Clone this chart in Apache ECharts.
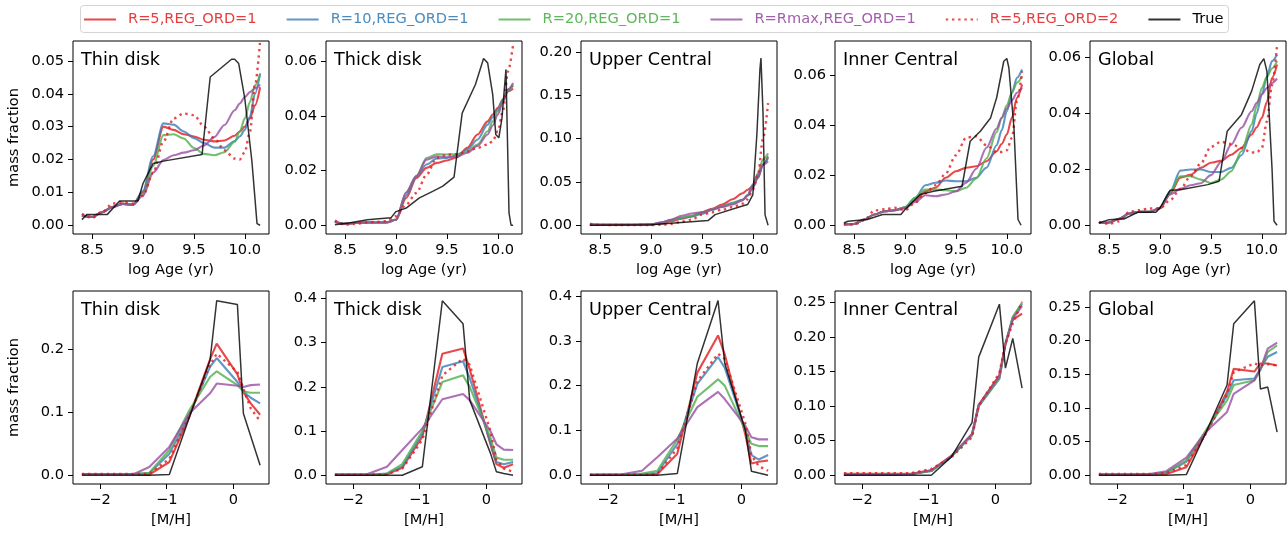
<!DOCTYPE html>
<html>
<head>
<meta charset="utf-8">
<script src="https://cdn.jsdelivr.net/npm/echarts@6/dist/echarts.min.js"></script>
<style>html,body{margin:0;padding:0;background:#fff}#c{width:1288px;height:533px}</style>
</head>
<body>
<div id="c"></div>
<script>
// ---------- data ----------
const SERIES_NAMES = ['R=5,REG_ORD=1','R=10,REG_ORD=1','R=20,REG_ORD=1','R=Rmax,REG_ORD=1','R=5,REG_ORD=2','True'];
const PANEL_TITLES = ['Thin disk','Thick disk','Upper Central','Inner Central','Global'];

const AGE = [8.4, 8.5, 8.6, 8.7, 8.8, 8.9, 9.0, 9.1, 9.2, 9.3, 9.4, 9.5, 9.6, 9.7, 9.8, 9.9, 9.95, 10.0, 10.05, 10.1, 10.15];
const MH = [-2.27, -1.79, -1.49, -1.26, -0.96, -0.66, -0.35, -0.25, 0.06, 0.15, 0.26, 0.40];

const AGE_TICKS = [8.5, 9.0, 9.5, 10.0];
const MH_TICKS = [-2, -1, 0];

// Thin disk (age)
const thinAgeR5   = [.003,.0025,.004,.0056,.0066,.0062,.010,.020,.0300,.0290,.0277,.0270,.0260,.0255,.0258,.0272,.0285,.0300,.0325,.0365,.0420];
const thinAgeR10  = [.003,.0025,.004,.0055,.0065,.0062,.0105,.021,.0310,.0306,.0285,.0265,.0250,.0236,.0236,.0256,.0270,.0290,.0330,.0400,.0462];
const thinAgeR20  = [.003,.0025,.004,.0055,.0065,.0062,.0095,.018,.0274,.0277,.0264,.0235,.0217,.0213,.0222,.0254,.0285,.0325,.0375,.0426,.0458];
const thinAgeRmax = [.003,.0025,.004,.0055,.0065,.0062,.009,.016,.0198,.0213,.0221,.0228,.0243,.0268,.0305,.0350,.0370,.0390,.0405,.0416,.0428];
const thinAgeR5o2 = [.0035,.0022,.004,.0066,.0070,.0066,.0090,.016,.0254,.0325,.0340,.0335,.0300,.0264,.0228,.0203,.0200,.0223,.0284,.0426,.0560];
const thinAgeTrueX = [8.4, 8.45, 8.65, 8.77, 8.95, 9.0, 9.1, 9.2, 9.58, 9.66, 9.87, 9.9, 9.94, 10.0, 10.07, 10.12, 10.15];
const thinAgeTrueY = [.0017,.0033,.0033,.0074,.0074,.0127,.0188,.0195,.0215,.0451,.0505,.0505,.0492,.0385,.0193,.0005,0];

// Thick disk (age)
const thickAgeR5   = [.0015,.0005,.0008,.001,.001,.001,.002,.010,.0173,.021,.0228,.0237,.0249,.0283,.0332,.038,.0405,.043,.046,.049,.050];
const thickAgeR10  = [.0013,.0005,.0008,.001,.001,.001,.002,.011,.0178,.0222,.0244,.0246,.0256,.0277,.0313,.0368,.0395,.0423,.046,.0496,.0510];
const thickAgeR20  = [.0012,.0005,.0008,.001,.001,.001,.002,.012,.0180,.0246,.026,.0259,.026,.027,.0295,.0344,.038,.0417,.0455,.049,.0515];
const thickAgeRmax = [.0012,.0005,.0008,.001,.001,.001,.002,.012,.0180,.0240,.0252,.0249,.0252,.0265,.029,.0332,.0365,.0405,.045,.0496,.052];
const thickAgeR5o2 = [.0017,.0002,.0005,.001,.0012,.0015,.0033,.0076,.0118,.0185,.0246,.0258,.026,.027,.0283,.0295,.0307,.0344,.0417,.0563,.066];
const thickAgeTrueX = [8.4, 8.55, 8.72, 8.83, 8.95, 9.0, 9.1, 9.23, 9.36, 9.46, 9.57, 9.65, 9.78, 9.86, 9.9, 9.95, 9.98, 10.01, 10.04, 10.08, 10.11, 10.13, 10.15];
const thickAgeTrueY = [.0002,.0009,.002,.0024,.0027,.005,.0063,.010,.0124,.0143,.0176,.041,.0515,.061,.0594,.0478,.0332,.032,.039,.057,.0045,0,0];

// Upper Central (age)
const upperAgeR5   = [.001,.0005,.0005,.0005,.0005,.0007,.001,.002,.0046,.0075,.0104,.015,.019,.0238,.030,.037,.041,.045,.0546,.070,.0796];
const upperAgeR10  = [.0008,.0005,.0005,.0005,.0005,.0007,.001,.003,.006,.0085,.010,.013,.018,.022,.026,.0296,.034,.043,.055,.070,.078];
const upperAgeR20  = [.0008,.0005,.0005,.0005,.0005,.0007,.001,.003,.006,.009,.011,.014,.018,.0215,.025,.029,.035,.047,.060,.076,.083];
const upperAgeRmax = [.0008,.0005,.0005,.0005,.0005,.0007,.001,.003,.0065,.011,.0135,.015,.018,.021,.024,.029,.035,.046,.058,.070,.074];
const upperAgeR5o2 = [.0015,.0005,.0003,.0003,.0003,.0003,.0003,.0005,.0015,.004,.0065,.0123,.015,.018,.021,.025,.030,.041,.058,.100,.141];
const upperAgeTrueX = [8.4, 9.0, 9.23, 9.56, 9.63, 9.89, 9.95, 10.0, 10.04, 10.07, 10.08, 10.1, 10.12, 10.15];
const upperAgeTrueY = [0, .0005, .0027, .0054, .0123, .022, .024, .035, .105, .18, .193, .13, .012, 0];

// Inner Central (age)
const innerAgeR5   = [.0003,.0005,.0023,.0043,.0056,.006,.0072,.010,.0136,.015,.019,.0216,.023,.0236,.0256,.0296,.0325,.0363,.043,.051,.0563];
const innerAgeR10  = [.0003,.0005,.0023,.0043,.0056,.006,.0072,.011,.016,.017,.0179,.0176,.0176,.019,.023,.032,.038,.0456,.053,.059,.0623];
const innerAgeR20  = [.0003,.0005,.0023,.0043,.0056,.006,.0072,.011,.0143,.0143,.014,.0136,.015,.0187,.0267,.0373,.043,.048,.053,.057,.0596];
const innerAgeRmax = [.0003,.0005,.0023,.0043,.0056,.006,.0068,.0093,.012,.0116,.0123,.0136,.017,.0226,.031,.0387,.043,.0467,.050,.053,.055];
const innerAgeR5o2 = [.0005,.0003,.002,.0059,.0064,.007,.006,.009,.0129,.016,.0207,.028,.035,.0356,.032,.0293,.0293,.030,.035,.0496,.0616];
const innerAgeTrueX = [8.4, 8.44, 8.52, 8.63, 8.78, 8.96, 9.0, 9.15, 9.28, 9.38, 9.56, 9.64, 9.74, 9.84, 9.9, 9.97, 10.0, 10.02, 10.07, 10.11, 10.14];
const innerAgeTrueY = [.0009,.0016,.0019,.0023,.0043,.0043,.0063,.0123,.0136,.0143,.0156,.0336,.0376,.0429,.051,.0656,.0667,.063,.039,.0023,0];

// Global (age)
const globalAgeR5   = [.0008,.001,.0023,.0042,.0048,.0048,.006,.0113,.017,.018,.0205,.0223,.023,.0252,.0276,.0324,.035,.0383,.044,.0526,.0574];
const globalAgeR10  = [.0008,.001,.0023,.0042,.0048,.0048,.0062,.012,.0195,.0199,.0199,.019,.019,.0205,.025,.0336,.040,.0467,.053,.0586,.061];
const globalAgeR20  = [.0008,.001,.0023,.0042,.0048,.0048,.0062,.012,.0175,.0175,.0163,.0151,.0163,.0193,.0264,.036,.0425,.049,.053,.056,.0586];
const globalAgeRmax = [.0008,.001,.0023,.0042,.0048,.0048,.0062,.011,.013,.0143,.015,.0179,.0226,.0288,.0348,.0407,.0437,.0467,.049,.0508,.0524];
const globalAgeR5o2 = [.0012,.0005,.0014,.0048,.0054,.006,.006,.009,.013,.0175,.022,.028,.0298,.029,.0276,.026,.026,.0276,.0371,.050,.0645];
const globalAgeTrueX = [8.4, 8.5, 8.65, 8.78, 8.96, 9.0, 9.1, 9.2, 9.47, 9.58, 9.66, 9.8, 9.9, 9.98, 10.02, 10.05, 10.1, 10.12, 10.15];
const globalAgeTrueY = [.0008,.002,.0023,.0046,.0046,.0062,.0125,.0127,.0145,.0157,.0336,.0395,.0479,.0574,.0595,.055,.0205,.0014,0];

// Metallicity panels
const thinMhR5   = [.002,.002,.002,.001,.021,.093,.184,.209,.160,.132,.114,.096];
const thinMhR10  = [.002,.002,.002,.003,.034,.095,.172,.186,.148,.133,.123,.114];
const thinMhR20  = [.002,.002,.002,.004,.040,.103,.156,.165,.143,.133,.131,.131];
const thinMhRmax = [.002,.002,.002,.013,.045,.098,.130,.1455,.142,.140,.143,.144];
const thinMhR5o2 = [.002,.002,.002,.002,.026,.095,.175,.193,.164,.1376,.106,.086];
const thinMhTrue = [0,0,0,0,.001,.092,.1825,.277,.271,.098,.062,.016];

const thickMhR5   = [.001,.001,.002,.017,.087,.275,.287,.240,.070,.025,.017,.025];
const thickMhR10  = [.001,.001,.003,.020,.094,.245,.258,.220,.075,.030,.025,.030];
const thickMhR20  = [.001,.001,.004,.025,.100,.211,.226,.200,.085,.040,.035,.035];
const thickMhRmax = [.002,.002,.019,.057,.106,.172,.184,.170,.100,.070,.058,.057];
const thickMhR5o2 = [.001,.001,.002,.015,.080,.226,.264,.250,.100,.035,.015,.008];
const thickMhTrue = [0,0,0,0,.019,.395,.343,.170,.050,.008,.004,0];

const upperMhR5   = [.001,.001,.001,.002,.048,.229,.312,.270,.090,.026,.030,.033];
const upperMhR10  = [.001,.001,.002,.005,.070,.204,.264,.240,.100,.045,.035,.045];
const upperMhR20  = [.001,.001,.004,.010,.080,.175,.214,.200,.100,.070,.065,.065];
const upperMhRmax = [.001,.002,.010,.040,.082,.152,.186,.170,.110,.085,.080,.080];
const upperMhR5o2 = [.001,.001,.001,.003,.060,.210,.271,.260,.115,.045,.020,.010];
const upperMhTrue = [0,0,0,0,.004,.250,.390,.250,.100,.009,.005,0];

const innerMhR5   = [.002,.002,.002,.002,.007,.028,.059,.102,.145,.190,.225,.234];
const innerMhR10  = [.001,.001,.001,.002,.006,.027,.058,.100,.140,.190,.229,.248];
const innerMhR20  = [.001,.001,.001,.002,.006,.027,.058,.100,.140,.190,.229,.250];
const innerMhRmax = [.001,.001,.001,.002,.007,.028,.060,.102,.143,.190,.226,.245];
const innerMhR5o2 = [.003,.003,.003,.003,.009,.026,.055,.100,.148,.190,.220,.251];
const innerMhTrue = [0,0,0,0,0,.0265,.076,.171,.2476,.155,.198,.126];

const globalMhR5   = [.001,.001,.001,.002,.012,.064,.124,.158,.154,.166,.166,.163];
const globalMhR10  = [.001,.001,.001,.004,.020,.065,.119,.141,.1436,.158,.176,.183];
const globalMhR20  = [.001,.001,.001,.004,.022,.068,.111,.134,.141,.156,.183,.193];
const globalMhRmax = [.001,.001,.002,.006,.026,.065,.094,.121,.141,.158,.188,.197];
const globalMhR5o2 = [.002,.002,.002,.003,.015,.063,.120,.153,.166,.163,.165,.163];
const globalMhTrue = [0,0,0,0,.001,.065,.134,.225,.259,.128,.131,.064];

// y tick labels
const TOP_Y_TICKS = [[0,.01,.02,.03,.04,.05],[0,.02,.04,.06],[0,.05,.10,.15,.20],[0,.02,.04,.06],[0,.02,.04,.06]];
const BOT_Y_TICKS = [[0,.1,.2],[0,.1,.2,.3,.4],[0,.1,.2,.3,.4],[0,.05,.10,.15,.20,.25],[0,.05,.10,.15,.20,.25]];
const BOT_Y_DEC = [1,1,1,2,2];

// ---------- layout / style ----------
const TOP_Y_RANGE = [[-0.00267,0.05605],[-0.0032,0.0674],[-0.0101,0.2127],[-0.0035,0.0737],[-0.00313,0.0658]];
const BOT_Y_RANGE = [[-0.0139,0.2924],[-0.0199,0.417],[-0.0196,0.4112],[-0.0127,0.2667],[-0.013,0.2736]];
const AGE_RANGE = [8.3125, 10.2375];
const MH_RANGE = [-2.4035, 0.5335];
const LEFTS = [73, 326, 581, 835, 1090];
const PW = 196, PH = 193, TOPS = [41, 291];
const FONT = 'DejaVu Sans';
const FS = 14.6, TFS = 17.6;
const COLORS = ['rgba(228,26,28,0.8)','rgba(55,126,184,0.8)','rgba(77,175,74,0.8)','rgba(152,78,163,0.8)','rgba(228,26,28,0.8)','rgba(0,0,0,0.8)'];
const LEGEND_TEXT = ['rgba(228,26,28,0.85)','rgba(55,126,184,0.9)','rgba(77,175,74,0.9)','rgba(152,78,163,0.9)','rgba(228,26,28,0.85)','#000'];

const topModels = [
  [thinAgeR5, thinAgeR10, thinAgeR20, thinAgeRmax, thinAgeR5o2, thinAgeTrueX, thinAgeTrueY],
  [thickAgeR5, thickAgeR10, thickAgeR20, thickAgeRmax, thickAgeR5o2, thickAgeTrueX, thickAgeTrueY],
  [upperAgeR5, upperAgeR10, upperAgeR20, upperAgeRmax, upperAgeR5o2, upperAgeTrueX, upperAgeTrueY],
  [innerAgeR5, innerAgeR10, innerAgeR20, innerAgeRmax, innerAgeR5o2, innerAgeTrueX, innerAgeTrueY],
  [globalAgeR5, globalAgeR10, globalAgeR20, globalAgeRmax, globalAgeR5o2, globalAgeTrueX, globalAgeTrueY]
];
const botModels = [
  [thinMhR5, thinMhR10, thinMhR20, thinMhRmax, thinMhR5o2, thinMhTrue],
  [thickMhR5, thickMhR10, thickMhR20, thickMhRmax, thickMhR5o2, thickMhTrue],
  [upperMhR5, upperMhR10, upperMhR20, upperMhRmax, upperMhR5o2, upperMhTrue],
  [innerMhR5, innerMhR10, innerMhR20, innerMhRmax, innerMhR5o2, innerMhTrue],
  [globalMhR5, globalMhR10, globalMhR20, globalMhRmax, globalMhR5o2, globalMhTrue]
];

const zip = (xs, ys) => xs.map((x, i) => [x, ys[i]]);
const minus = v => (v < 0 ? '\u2212' + Math.abs(v) : String(v));

const grids = [], xAxes = [], yAxes = [], series = [], titles = [];

function lineStyleFor(k) {
  if (k === 4) return { color: COLORS[k], width: 2.4, type: [2.4, 3.8], cap: 'butt' };
  if (k === 5) return { color: COLORS[k], width: 1.5 };
  return { color: COLORS[k], width: 2.1 };
}

for (let row = 0; row < 2; row++) {
  for (let p = 0; p < 5; p++) {
    const gi = row * 5 + p;
    grids.push({ left: LEFTS[p], top: TOPS[row], width: PW, height: PH, show: true, borderColor: '#000', borderWidth: 1, backgroundColor: 'transparent', containLabel: false });
    const xr = row === 0 ? AGE_RANGE : MH_RANGE;
    const xt = row === 0 ? AGE_TICKS : MH_TICKS;
    xAxes.push({
      type: 'value', gridIndex: gi, min: xr[0], max: xr[1],
      name: row === 0 ? 'log Age (yr)' : '[M/H]', nameLocation: 'middle', nameGap: 29,
      nameTextStyle: { fontFamily: FONT, fontSize: FS, color: '#000' },
      axisLine: { show: false, onZero: false }, splitLine: { show: false },
      axisTick: { show: true, length: 5, customValues: xt, lineStyle: { color: '#000', width: 1 } },
      axisLabel: { show: true, customValues: xt, margin: 9, fontFamily: FONT, fontSize: FS, color: '#000',
        formatter: v => row === 0 ? Number(v).toFixed(1) : minus(v) }
    });
    const yr = row === 0 ? TOP_Y_RANGE[p] : BOT_Y_RANGE[p];
    const yt = row === 0 ? TOP_Y_TICKS[p] : BOT_Y_TICKS[p];
    const dec = row === 0 ? 2 : BOT_Y_DEC[p];
    yAxes.push({
      type: 'value', gridIndex: gi, min: yr[0], max: yr[1],
      axisLine: { show: false, onZero: false }, splitLine: { show: false },
      axisTick: { show: true, length: 5, customValues: yt, lineStyle: { color: '#000', width: 1 } },
      axisLabel: { show: true, customValues: yt, margin: 9, fontFamily: FONT, fontSize: FS, color: '#000',
        formatter: v => Number(v).toFixed(dec) }
    });
    titles.push({ text: PANEL_TITLES[p], left: LEFTS[p] + 8, top: TOPS[row] + 10, padding: 0,
      textStyle: { fontFamily: FONT, fontSize: TFS, fontWeight: 'normal', color: '#000' } });

    for (let k = 0; k < 6; k++) {
      let data;
      if (row === 0) {
        const m = topModels[p];
        data = k < 5 ? zip(AGE, m[k]) : zip(m[5], m[6]);
      } else {
        data = zip(MH, botModels[p][k]);
      }
      series.push({
        type: 'line', name: SERIES_NAMES[k], xAxisIndex: gi, yAxisIndex: gi,
        data, showSymbol: false, symbol: 'none',
        smooth: (row === 0 && k < 5) ? 0.3 : false,
        smoothMonotone: 'x',
        lineStyle: lineStyleFor(k), itemStyle: { color: COLORS[k] },
        emphasis: { disabled: true }, animation: false, z: 2 + k
      });
    }
  }
}

const chart = echarts.init(document.getElementById('c'), null, { renderer: 'canvas' });
chart.setOption({
  animation: false,
  backgroundColor: '#fff',
  title: titles,
  grid: grids,
  xAxis: xAxes,
  yAxis: yAxes,
  legend: {
    left: 83, top: 12, padding: 0, itemGap: 29, itemWidth: 32, itemHeight: 2,
    selectedMode: false,
    itemStyle: { opacity: 0, borderWidth: 0 },
    data: SERIES_NAMES.map((n, k) => ({ name: n, textStyle: { color: LEGEND_TEXT[k], padding: [0, 0, 0, 7] } })),
    textStyle: { fontFamily: FONT, fontSize: FS }
  },
  graphic: [
    { type: 'rect', shape: { x: 80.5, y: 5.5, width: 1148, height: 27, r: 3 }, style: { fill: '#fff', stroke: '#d4d4d4', lineWidth: 1 }, z: -10, silent: true },
    { type: 'text', x: 14, y: TOPS[0] + PH / 2, rotation: Math.PI / 2, style: { text: 'mass fraction', font: FS + 'px "DejaVu Sans"', fill: '#000', align: 'center', verticalAlign: 'middle' }, silent: true },
    { type: 'text', x: 14, y: TOPS[1] + PH / 2, rotation: Math.PI / 2, style: { text: 'mass fraction', font: FS + 'px "DejaVu Sans"', fill: '#000', align: 'center', verticalAlign: 'middle' }, silent: true }
  ],
  series
});
</script>
</body>
</html>
